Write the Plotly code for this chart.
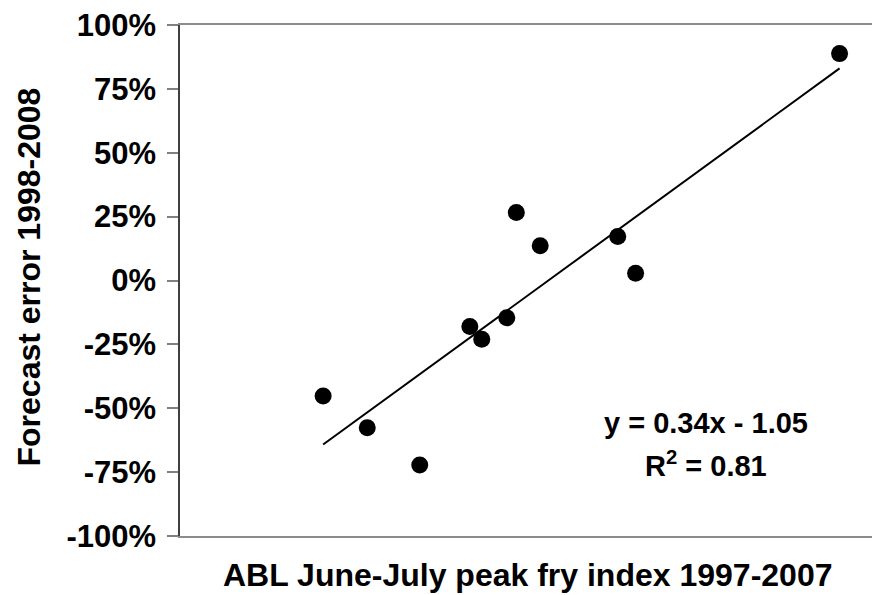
import plotly.graph_objects as go

# Data
fry_index = [1.20, 1.57, 2.01, 2.43, 2.53, 2.74, 2.82, 3.02, 3.67, 3.82, 5.53]
forecast_error = [-0.452, -0.576, -0.722, -0.180, -0.230, -0.146, 0.266, 0.136, 0.172, 0.028, 0.888]
slope = 0.34
intercept = -1.05
r_squared = 0.81
y_ticks = [-1.0, -0.75, -0.5, -0.25, 0.0, 0.25, 0.5, 0.75, 1.0]
y_tick_labels = ["-100%", "-75%", "-50%", "-25%", "0%", "25%", "50%", "75%", "100%"]

FONT = "Liberation Sans, Arial, sans-serif"

fig = go.Figure()

x_line = [min(fry_index), max(fry_index)]
y_line = [slope * v + intercept for v in x_line]
fig.add_trace(go.Scatter(x=x_line, y=y_line, mode="lines",
                         line=dict(color="black", width=2), hoverinfo="skip"))
fig.add_trace(go.Scatter(x=fry_index, y=forecast_error, mode="markers",
                         marker=dict(color="black", size=17)))

# page body has an 8px margin; compensate so the plot lands where the reference's does
fig.update_layout(
    width=872, height=587,
    margin=dict(l=172, r=0, t=12, b=59),
    paper_bgcolor="white", plot_bgcolor="white",
    showlegend=False,
    font=dict(family=FONT, color="black"),
)
fig.update_xaxes(range=[0, 5.869], showticklabels=False, ticks="", showgrid=False,
                 zeroline=False, showline=True, mirror=True, linecolor="#8c8c8c", linewidth=1.5)
fig.update_yaxes(range=[-1, 1], tickvals=y_ticks, ticktext=y_tick_labels,
                 ticks="outside", ticklen=11, tickcolor="#808080", tickwidth=1.5,
                 showgrid=False, zeroline=False, showline=True, linecolor="#404040", linewidth=1.5,
                 ticklabeloverflow="allow",
                 tickfont=dict(family=FONT, size=31, weight="bold", color="black"), ticklabelstandoff=5)

fig.add_annotation(text="ABL June-July peak fry index 1997-2007", xref="paper", yref="paper",
                   x=0.497, y=0, yanchor="middle", xanchor="center", yshift=-39, showarrow=False,
                   font=dict(family=FONT, size=32, weight="bold", color="black"))
fig.add_annotation(text="Forecast error 1998-2008", xref="paper", yref="paper",
                   x=0, y=0.5, xanchor="center", yanchor="middle", xshift=-152, yshift=3,
                   textangle=-90, showarrow=False,
                   font=dict(family=FONT, size=32, weight="bold", color="black"))
fig.add_annotation(text=f"y = {slope:.2f}x - {abs(intercept):.2f}", x=4.41, y=-0.558,
                   xref="x", yref="y", showarrow=False,
                   font=dict(family=FONT, size=29, weight="bold", color="black"))
fig.add_annotation(text=f"R<sup>2</sup> = {r_squared:.2f}", x=4.41, y=-0.72,
                   xref="x", yref="y", showarrow=False,
                   font=dict(family=FONT, size=29, weight="bold", color="black"))

fig.write_html("out.html")
